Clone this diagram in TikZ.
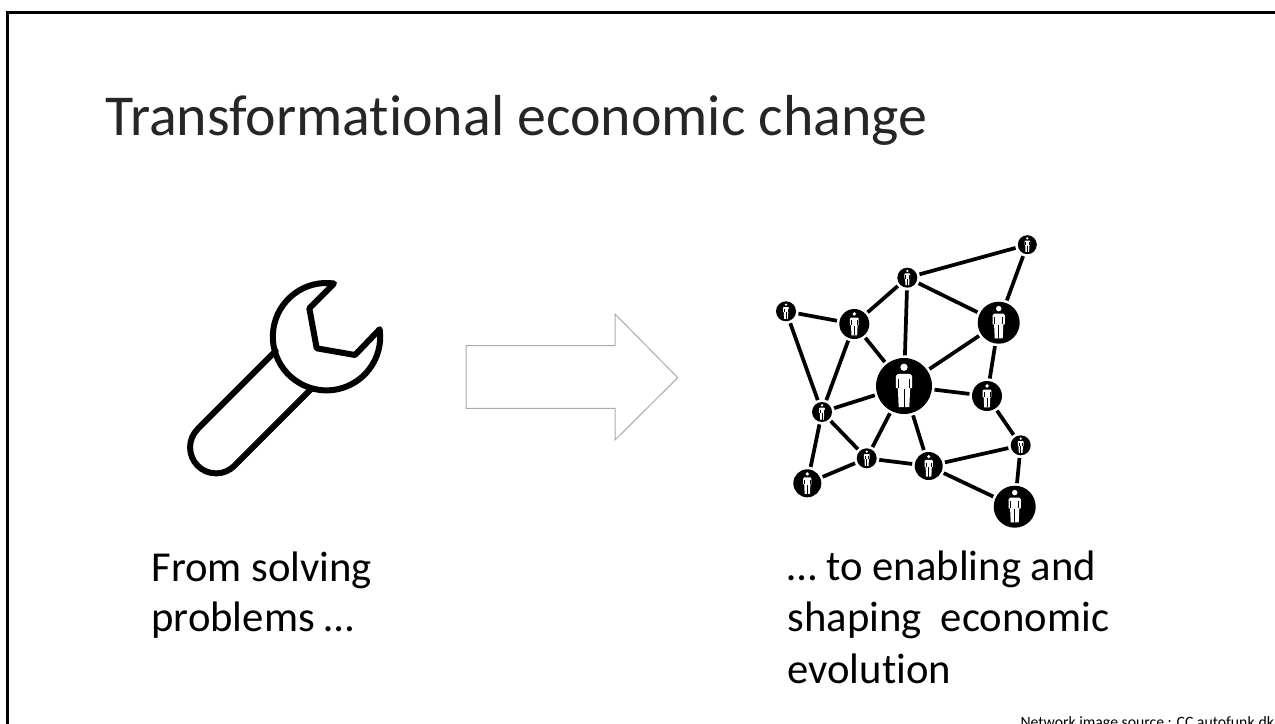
\documentclass[tikz,border=0pt]{standalone}
\usepackage{fontspec}
\setmainfont[Ligatures=NoCommon]{Carlito}
\tikzset{every picture/.style={line width=0.75pt}}
\tikzset{
	hub/.style={circle,fill=black,inner sep=0pt,outer sep=2pt},
	link/.style={line width=2.8pt},
	tool/.style={line width=4.5pt,line join=round,line cap=round},
	person/.pic={
		\fill [white] (0,-0.67) circle (0.13);
		\fill [white] (-0.29,-0.36) -- (-0.22,-0.43) -- (0.22,-0.43) -- (0.29,-0.36) -- (0.29,0.08) -- (0.22,0.08) -- (0.19,0.75) -- (-0.19,0.75) -- (-0.22,0.08) -- (-0.29,0.08) -- cycle;
		\draw [black,line width=0.4pt] (0,0.1) -- (0,0.75);
		\draw [black,line width=0.4pt] (-0.19,-0.25) -- (-0.19,0.08) (0.19,-0.25) -- (0.19,0.08);
	}}
\newcommand{\hubnode}[4]{%
	\node [hub,minimum size=#4*1.5pt] (#1) at (#2,#3) {};
	\pic [scale=#4,yscale=-1] at (#2,#3) {person};
}
\begin{document}
\begin{tikzpicture}[x=0.75pt,y=0.75pt,yscale=-1,xscale=1]
	\useasboundingbox (0,0) rectangle (1275,724);

	%Shape: Frame
	\draw [line width=2.3pt] (7.5,724) -- (7.5,12.5) -- (1275,12.5);

	%Shape: Wrench
	\draw [tool] (334,283.5) arc[start angle=-82,end angle=-368,radius=53.7] -- (355,355) -- (316.7,348.3) -- (309.3,308.3) -- cycle;
	\draw [tool] (275.7,351) -- (197.7,429) arc[start angle=225,end angle=45,radius=26] -- (311.5,388.5);

	%Right Arrow
	\draw [color={rgb, 255:red, 170; green, 170; blue, 170 },line width=0.75pt] (466,345.7) -- (615,345.7) -- (615,314) -- (677.7,377.7) -- (615,440) -- (615,408.3) -- (466,408.3) -- cycle;

	%Shape: Ellipse
	\hubnode{center}{904}{386}{28}
	\hubnode{far}{1027.3}{244.7}{9.5}
	\hubnode{top}{907.3}{277.7}{10}
	\hubnode{upright}{998.7}{322.7}{21}
	\hubnode{left}{786}{311.3}{10}
	\hubnode{upleft}{854.3}{324}{15}
	\hubnode{right}{987}{396}{15}
	\hubnode{midleft}{822}{412}{10}
	\hubnode{lower}{866.7}{458.3}{10}
	\hubnode{lowmid}{928.7}{466}{14}
	\hubnode{lowright}{1020.7}{445.3}{10}
	\hubnode{botleft}{807.3}{483.3}{14}
	\hubnode{botright}{1014.7}{506.7}{21}

	% Links
	\foreach \a/\b in {far/top,far/upright,top/upright,top/upleft,top/center,left/upleft,left/midleft,upleft/center,upleft/midleft,upright/center,upright/right,center/right,center/midleft,center/lower,center/lowmid,midleft/lower,midleft/botleft,botleft/lower,lower/lowmid,lowmid/lowright,lowmid/botright,right/lowright,lowright/botright}
		\draw [link] (\a) -- (\b);

	% Text Node
	\node [anchor=base west,inner sep=0pt,text={rgb, 255:red, 38; green, 38; blue, 38 },font=\fontsize{43.4pt}{43.4pt}\selectfont] (title) at (105,135.5) {Transformational economic change};
	% Text Node
	\node [anchor=base west,inner sep=0pt,font=\fontsize{32pt}{37.5pt}\selectfont,align=left] (from) at (151,631) {From solving\\problems …};
	% Text Node
	\node [anchor=base west,inner sep=0pt,font=\fontsize{32pt}{38.4pt}\selectfont,align=left] (to) at (787,683) {… to enabling and\\shaping\ \ economic\\evolution};
	% Text Node
	\node [anchor=base west,inner sep=0pt,font=\fontsize{11.8pt}{12pt}\selectfont] (credit) at (1020,727) {Network image source : CC autofunk.dk};
\end{tikzpicture}
\end{document}
